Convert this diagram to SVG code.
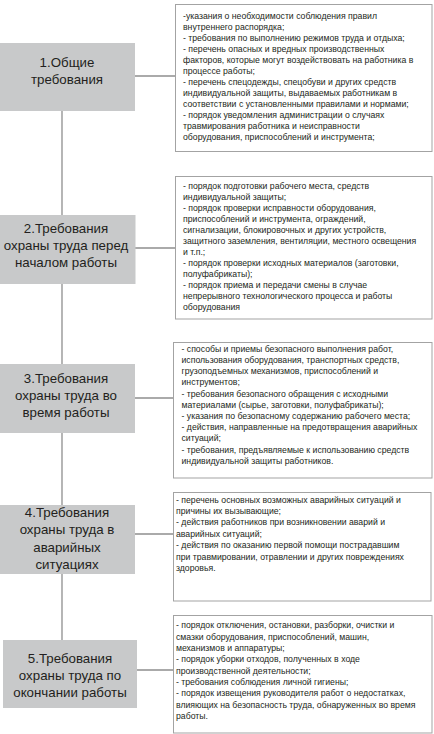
<svg xmlns="http://www.w3.org/2000/svg" width="434" height="734" viewBox="0 0 434 734">
<style>
.bg{fill:#ffffff}
.gbox{fill:#c8c9ca}
.tbox{fill:#ffffff;stroke:#a3a3a3;stroke-width:1}
.conn{stroke:#8e8e8e;stroke-width:1.3;fill:none}
.lbl{font-family:"Liberation Sans",Arial,sans-serif;font-size:13.3px;fill:#231f20;text-anchor:middle}
.desc{font-family:"Liberation Sans",Arial,sans-serif;font-size:8.7px;fill:#231f20}
</style>
<rect class="bg" x="0" y="0" width="434" height="734"/>
<g id="connectors">
<line class="conn" x1="62" y1="111" x2="62" y2="640"/>
<line class="conn" x1="135" y1="76" x2="175" y2="76"/>
<line class="conn" x1="135" y1="248" x2="175" y2="248"/>
<line class="conn" x1="135" y1="398" x2="173" y2="398"/>
<line class="conn" x1="135" y1="534" x2="173" y2="534"/>
<line class="conn" x1="137" y1="670" x2="173" y2="670"/>
</g>
<g id="node1">
<rect class="gbox" x="0" y="43" width="135" height="68"/>
<text class="lbl" x="67" y="67">1.Общие</text>
<text class="lbl" x="67" y="84">требования</text>
</g>
<g id="desc1">
<rect class="tbox" x="175.5" y="4.5" width="256.5" height="147"/>
<text class="desc" x="183" y="18.5">-указания о необходимости соблюдения правил</text>
<text class="desc" x="183" y="29.6">внутреннего распорядка;</text>
<text class="desc" x="183" y="40.6">- требования по выполнению режимов труда и отдыха;</text>
<text class="desc" x="183" y="51.7">- перечень опасных и вредных производственных</text>
<text class="desc" x="183" y="62.7">факторов, которые могут воздействовать на работника в</text>
<text class="desc" x="183" y="73.8">процессе работы;</text>
<text class="desc" x="183" y="84.9">- перечень спецодежды, спецобуви и других средств</text>
<text class="desc" x="183" y="95.9">индивидуальной защиты, выдаваемых работникам в</text>
<text class="desc" x="183" y="107">соответствии с установленными правилами и нормами;</text>
<text class="desc" x="183" y="118">- порядок уведомления администрации о случаях</text>
<text class="desc" x="183" y="129.1">травмирования работника и неисправности</text>
<text class="desc" x="183" y="140.2">оборудования, приспособлений и инструмента;</text>
</g>
<g id="node2">
<rect class="gbox" x="0" y="215" width="135.5" height="69"/>
<text class="lbl" x="66" y="233">2.Требования</text>
<text class="lbl" x="66" y="250">охраны труда перед</text>
<text class="lbl" x="66" y="267">началом работы</text>
</g>
<g id="desc2">
<rect class="tbox" x="175.5" y="176.5" width="256.5" height="142.5"/>
<text class="desc" x="183" y="189">- порядок подготовки рабочего места, средств</text>
<text class="desc" x="183" y="200">индивидуальной защиты;</text>
<text class="desc" x="183" y="211">- порядок проверки исправности оборудования,</text>
<text class="desc" x="183" y="222">приспособлений и инструмента, ограждений,</text>
<text class="desc" x="183" y="233">сигнализации, блокировочных и других устройств,</text>
<text class="desc" x="183" y="244">защитного заземления, вентиляции, местного освещения</text>
<text class="desc" x="183" y="255">и т.п.;</text>
<text class="desc" x="183" y="266">- порядок проверки исходных материалов (заготовки,</text>
<text class="desc" x="183" y="277">полуфабрикаты);</text>
<text class="desc" x="183" y="288">- порядок приема и передачи смены в случае</text>
<text class="desc" x="183" y="299">непрерывного технологического процесса и работы</text>
<text class="desc" x="183" y="310">оборудования</text>
</g>
<g id="node3">
<rect class="gbox" x="0" y="364" width="135" height="69"/>
<text class="lbl" x="66" y="383">3.Требования</text>
<text class="lbl" x="66" y="400">охраны труда во</text>
<text class="lbl" x="66" y="417">время работы</text>
</g>
<g id="desc3">
<rect class="tbox" x="173.5" y="342.5" width="258.5" height="135.5"/>
<text class="desc" x="181.5" y="351.8">- способы и приемы безопасного выполнения работ,</text>
<text class="desc" x="181.5" y="363">использования оборудования, транспортных средств,</text>
<text class="desc" x="181.5" y="374.2">грузоподъемных механизмов, приспособлений и</text>
<text class="desc" x="181.5" y="385.4">инструментов;</text>
<text class="desc" x="181.5" y="396.6">- требования безопасного обращения с исходными</text>
<text class="desc" x="181.5" y="407.8">материалами (сырье, заготовки, полуфабрикаты);</text>
<text class="desc" x="181.5" y="419">- указания по безопасному содержанию рабочего места;</text>
<text class="desc" x="181.5" y="430.2">- действия, направленные на предотвращения аварийных</text>
<text class="desc" x="181.5" y="441.4">ситуаций;</text>
<text class="desc" x="181.5" y="452.6">- требования, предъявляемые к использованию средств</text>
<text class="desc" x="181.5" y="463.8">индивидуальной защиты работников.</text>
</g>
<g id="node4">
<rect class="gbox" x="0" y="505" width="135" height="69"/>
<text class="lbl" x="67" y="517">4.Требования</text>
<text class="lbl" x="67" y="534">охраны труда в</text>
<text class="lbl" x="67" y="551.5">аварийных</text>
<text class="lbl" x="67" y="569">ситуациях</text>
</g>
<g id="desc4">
<rect class="tbox" x="173.5" y="492.5" width="257.5" height="108.5"/>
<text class="desc" x="176" y="502.5">- перечень основных возможных аварийных ситуаций и</text>
<text class="desc" x="176" y="513.9">причины их вызывающие;</text>
<text class="desc" x="176" y="525.3">- действия работников при возникновении аварий и</text>
<text class="desc" x="176" y="536.7">аварийных ситуаций;</text>
<text class="desc" x="176" y="548.1">- действия по оказанию первой помощи пострадавшим</text>
<text class="desc" x="176" y="559.5">при травмировании, отравлении и других повреждениях</text>
<text class="desc" x="176" y="570.9">здоровья.</text>
</g>
<g id="node5">
<rect class="gbox" x="3" y="640" width="134" height="68"/>
<text class="lbl" x="70" y="662.7">5.Требования</text>
<text class="lbl" x="70" y="680">охраны труда по</text>
<text class="lbl" x="70" y="696.7">окончании работы</text>
</g>
<g id="desc5">
<rect class="tbox" x="173.5" y="615.5" width="258.5" height="117.5"/>
<text class="desc" x="176" y="628.2">- порядок отключения, остановки, разборки, очистки и</text>
<text class="desc" x="176" y="639.5">смазки оборудования, приспособлений, машин,</text>
<text class="desc" x="176" y="650.9">механизмов и аппаратуры;</text>
<text class="desc" x="176" y="662.2">- порядок уборки отходов, полученных в ходе</text>
<text class="desc" x="176" y="673.5">производственной деятельности;</text>
<text class="desc" x="176" y="684.9">- требования соблюдения личной гигиены;</text>
<text class="desc" x="176" y="696.2">- порядок извещения руководителя работ о недостатках,</text>
<text class="desc" x="176" y="707.5">влияющих на безопасность труда, обнаруженных во время</text>
<text class="desc" x="176" y="718.9">работы.</text>
</g>
</svg>
